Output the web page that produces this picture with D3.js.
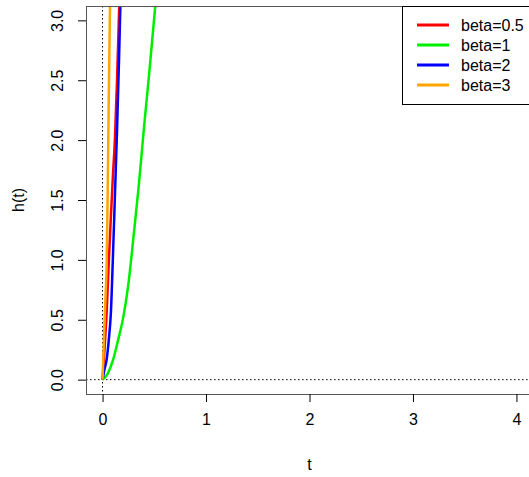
<!DOCTYPE html>
<html>
<head>
<meta charset="utf-8">
<script src="https://cdn.jsdelivr.net/npm/d3@7"></script>
<style>
  html, body { margin: 0; padding: 0; background: #fff; }
  svg text { font-family: "Liberation Sans", Arial, sans-serif; fill: #000; }
</style>
</head>
<body>
<svg id="chart" width="529" height="477"></svg>
<script>
// Hazard curves h(t) for several shape parameters
const seriesNames = ["beta=0.5", "beta=1", "beta=2", "beta=3"];
const seriesColors = ["#ff0000", "#00ee00", "#0000ff", "#ffa500"];

const tBeta05 = [0, 0.02, 0.04, 0.06, 0.08, 0.10, 0.12, 0.14, 0.16, 0.18];
const hBeta05 = [0, 0.27, 0.57, 0.98, 1.35, 1.70, 2.02, 2.50, 3.08, 3.60];

const tBeta1 = [0, 0.05, 0.10, 0.15, 0.20, 0.25, 0.30, 0.35, 0.40, 0.45, 0.50, 0.55];
const hBeta1 = [0, 0.05, 0.16, 0.33, 0.52, 0.80, 1.20, 1.62, 2.10, 2.55, 3.03, 3.50];

const tBeta2 = [0, 0.02, 0.04, 0.06, 0.08, 0.10, 0.12, 0.14, 0.16, 0.18];
const hBeta2 = [0, 0.09, 0.17, 0.33, 0.55, 1.02, 1.55, 2.08, 2.70, 3.40];

const tBeta3 = [0, 0.01, 0.02, 0.03, 0.04, 0.05, 0.06, 0.07, 0.08];
const hBeta3 = [0, 0.25, 0.50, 0.72, 0.97, 1.60, 2.35, 3.00, 3.60];

const xTicks = [0, 1, 2, 3, 4];
const yTicks = [0, 0.5, 1, 1.5, 2, 2.5, 3];
const xLimits = [0, 4];
const yLimits = [0, 3];

const tSeries = [tBeta05, tBeta1, tBeta2, tBeta3];
const hSeries = [hBeta05, hBeta1, hBeta2, hBeta3];

const svg = d3.select("#chart");
const fontSize = 16;

// plot region (the frame continues past the right edge of the page)
const plotLeft = 86, plotRight = 533, plotTop = 6, plotBottom = 394;

// R-style 4% padding on both axes
const padX = (xLimits[1] - xLimits[0]) * 0.04;
const padY = (yLimits[1] - yLimits[0]) * 0.04;
const x = d3.scaleLinear().domain([xLimits[0] - padX, xLimits[1] + padX]).range([plotLeft, plotRight]);
const y = d3.scaleLinear().domain([yLimits[0] - padY, yLimits[1] + padY]).range([plotBottom, plotTop]);

svg.append("defs").append("clipPath").attr("id", "plotClip")
  .append("rect").attr("x", plotLeft).attr("y", plotTop)
  .attr("width", plotRight - plotLeft).attr("height", plotBottom - plotTop);

// reference lines at h = 0 and t = 0
svg.append("line")
  .attr("x1", plotLeft).attr("x2", plotRight)
  .attr("y1", y(0)).attr("y2", y(0))
  .attr("stroke", "#000").attr("stroke-width", 1)
  .attr("stroke-dasharray", "1.5,2.5");
svg.append("line")
  .attr("x1", x(0)).attr("x2", x(0))
  .attr("y1", plotTop).attr("y2", plotBottom)
  .attr("stroke", "#000").attr("stroke-width", 1)
  .attr("stroke-dasharray", "1.5,2.5");

// curves
const line = d3.line().curve(d3.curveMonotoneX).x(d => x(d[0])).y(d => y(d[1]));
const curves = svg.append("g").attr("clip-path", "url(#plotClip)");
tSeries.forEach((ts, i) => {
  const pts = ts.map((t, j) => [t, hSeries[i][j]]);
  curves.append("path")
    .datum(pts)
    .attr("d", line)
    .attr("fill", "none")
    .attr("stroke", seriesColors[i])
    .attr("stroke-width", 2.5)
    .attr("stroke-linejoin", "round");
});

// frame
svg.append("rect")
  .attr("x", plotLeft + 0.5).attr("y", plotTop + 0.5)
  .attr("width", plotRight - plotLeft).attr("height", plotBottom - plotTop)
  .attr("fill", "none").attr("stroke", "#555").attr("stroke-width", 1);

// x axis
const xAxis = svg.append("g")
  .attr("transform", `translate(0,${plotBottom})`)
  .call(d3.axisBottom(x).tickValues(xTicks).tickFormat(d3.format("d")).tickSize(8).tickPadding(12));
xAxis.select(".domain").remove();
xAxis.selectAll("line").attr("stroke", "#000");
xAxis.selectAll("text").attr("font-size", fontSize).attr("font-family", "Liberation Sans, Arial, sans-serif");

// y axis: ticks via d3, labels rotated like the base-R default
const yAxis = svg.append("g")
  .attr("transform", `translate(${plotLeft},0)`)
  .call(d3.axisLeft(y).tickValues(yTicks).tickSize(8).tickFormat(""));
yAxis.select(".domain").remove();
yAxis.selectAll("line").attr("stroke", "#000");
yAxis.selectAll(".tick").append("text")
  .attr("transform", "translate(-23,0) rotate(-90)")
  .attr("text-anchor", "middle")
  .attr("font-size", fontSize)
  .text(d => d3.format(".1f")(d));

// axis titles
svg.append("text")
  .attr("x", (plotLeft + plotRight) / 2).attr("y", 470)
  .attr("text-anchor", "middle").attr("font-size", fontSize)
  .text("t");
svg.append("text")
  .attr("transform", `translate(24,${(plotTop + plotBottom) / 2}) rotate(-90)`)
  .attr("text-anchor", "middle").attr("font-size", fontSize)
  .text("h(t)");

// legend
const legend = svg.append("g");
legend.append("rect")
  .attr("x", 402.5).attr("y", plotTop + 0.5)
  .attr("width", 140).attr("height", 98)
  .attr("fill", "#fff").attr("stroke", "#000").attr("stroke-width", 1);
seriesNames.forEach((name, i) => {
  const ly = 25 + i * 20;
  legend.append("line")
    .attr("x1", 417).attr("x2", 449)
    .attr("y1", ly).attr("y2", ly)
    .attr("stroke", seriesColors[i]).attr("stroke-width", 3);
  legend.append("text")
    .attr("x", 461).attr("y", ly).attr("dy", "0.36em")
    .attr("font-size", fontSize)
    .text(name);
});
</script>
</body>
</html>
